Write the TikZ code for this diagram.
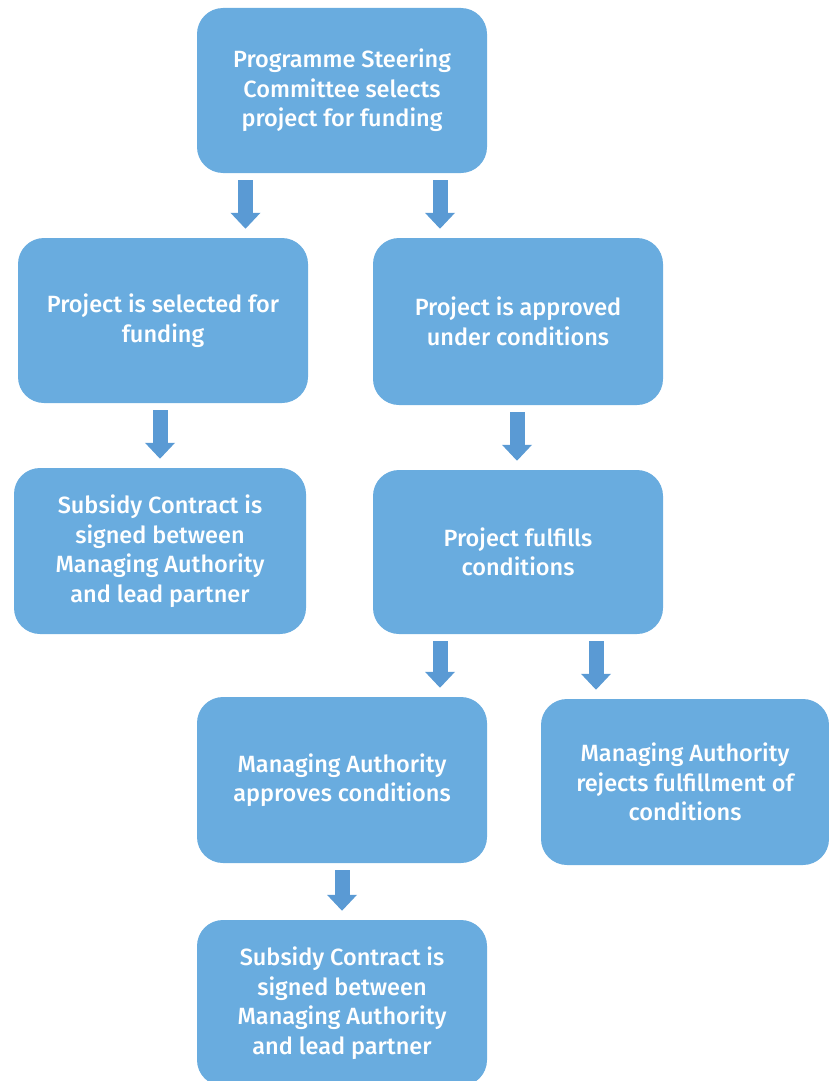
\documentclass[tikz,border=0pt]{standalone}
\usepackage{fontspec}
\setmainfont{Fira Sans}[BoldFont={Fira Sans Medium}]
\usetikzlibrary{arrows.meta}

\definecolor{boxblue}{HTML}{69ACDF}
\definecolor{arrowblue}{HTML}{5A9AD4}

\tikzset{
	stepbox/.style={fill=boxblue, rounded corners=26pt, text=white, align=center,
		minimum width=290pt, minimum height=165pt, inner sep=0pt,
		font=\fontsize{23.5pt}{29.5pt}\selectfont\bfseries},
	flow/.style={draw=arrowblue, line width=15pt,
		-{Triangle[width=29pt,length=16pt]}, shorten <=7pt, shorten >=9pt}
}

\begin{document}
\begin{tikzpicture}[x=1pt,y=-1pt]
	\useasboundingbox (0,0) rectangle (829,1081);
	\node[stepbox] (select) at (342,90.5) {Programme Steering\\Committee selects\\project for funding};
	\node[stepbox] (funded) at (163,320.5) {Project is selected for\\funding};
	\node[stepbox, minimum height=167pt] (approved) at (518,321.5) {Project is approved\\under conditions};
	\node[stepbox, minimum width=292pt, minimum height=166pt] (contractA) at (160,551) {Subsidy Contract is\\signed between\\Managing Authority\\and lead partner};
	\node[stepbox, minimum height=164pt] (fulfils) at (518,552) {Project fulfills\\conditions};
	\node[stepbox, minimum height=166pt] (accept) at (342,780) {Managing Authority\\approves conditions};
	\node[stepbox, minimum width=288pt, minimum height=166pt] (reject) at (685,782) {Managing Authority\\rejects fulfillment of\\conditions};
	\node[stepbox, minimum height=166pt] (contractB) at (342,1003) {Subsidy Contract is\\signed between\\Managing Authority\\and lead partner};
	% block arrows between the steps
	\draw[flow] ([xshift=-96.5pt]select.south) -- ([xshift=82.5pt]funded.north);
	\draw[flow] ([xshift=98pt]select.south) -- ([xshift=-78pt]approved.north);
	\draw[flow] ([xshift=-3pt]funded.south) -- (contractA.north);
	\draw[flow] ([xshift=-1pt]approved.south) -- ([xshift=-1pt]fulfils.north);
	\draw[flow] ([xshift=-78pt]fulfils.south) -- ([xshift=98pt]accept.north);
	\draw[flow] ([xshift=78pt]fulfils.south) -- ([xshift=-89pt]reject.north);
	\draw[flow] (accept.south) -- (contractB.north);
\end{tikzpicture}
\end{document}
